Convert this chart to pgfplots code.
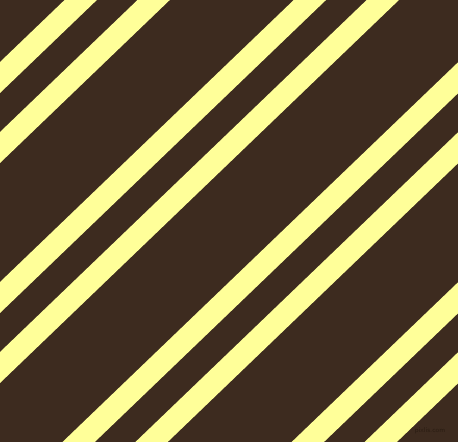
\documentclass[border=0pt]{standalone}
\usepackage{pgfplots}
\pgfplotsset{compat=1.18}
\definecolor{bg}{HTML}{3D2B1F}
\definecolor{stripe}{HTML}{FFFF99}
\definecolor{mark}{HTML}{2A1C12}

\begin{document}
\begin{tikzpicture}
\begin{axis}[
    scale only axis,
    width=458pt, height=442pt,
    xmin=0, xmax=458, ymin=0, ymax=442,
    axis line style={draw=none},
    ticks=none,
    axis background/.style={fill=bg},
    clip=true
]
% each stripe: upper edge at x=-10 and x=470, then lower edge back
\addplot[fill=stripe, draw=none] coordinates {(-10,370.4) (470,831.2) (470,800.2) (-10,339.4)};
\addplot[fill=stripe, draw=none] coordinates {(-10,300.4) (470,761.2) (470,730.2) (-10,269.4)};
\addplot[fill=stripe, draw=none] coordinates {(-10,150.4) (470,611.2) (470,580.2) (-10,119.4)};
\addplot[fill=stripe, draw=none] coordinates {(-10,80.4) (470,541.2) (470,510.2) (-10,49.4)};
\addplot[fill=stripe, draw=none] coordinates {(-10,-69.6) (470,391.2) (470,360.2) (-10,-100.6)};
\addplot[fill=stripe, draw=none] coordinates {(-10,-139.6) (470,321.2) (470,290.2) (-10,-170.6)};
\addplot[fill=stripe, draw=none] coordinates {(-10,-289.6) (470,171.2) (470,140.2) (-10,-320.6)};
\addplot[fill=stripe, draw=none] coordinates {(-10,-359.6) (470,101.2) (470,70.2) (-10,-390.6)};
\node[text=mark, font=\fontsize{7}{8}\sffamily] at (axis cs:430,11) {pixlis.com};
\end{axis}
\end{tikzpicture}
\end{document}
